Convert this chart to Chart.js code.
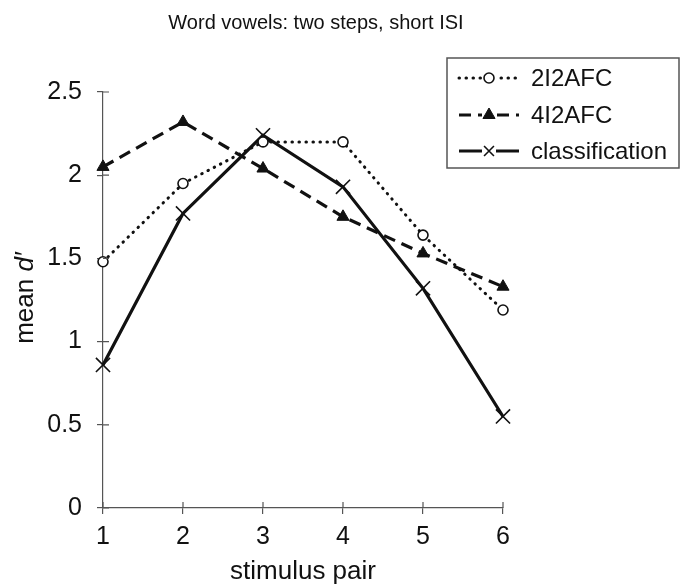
<!DOCTYPE html>
<html>
<head>
<meta charset="utf-8">
<script src="https://cdn.jsdelivr.net/npm/chart.js@4/dist/chart.umd.min.js"></script>
<style>
  body { margin: 0; background: #fff; }
</style>
</head>
<body>
<canvas id="myChart" width="683" height="588"></canvas>
<script>
// data
var pairs = [1, 2, 3, 4, 5, 6];
var twoI2AFC = [1.48, 1.95, 2.2, 2.2, 1.64, 1.19];
var fourI2AFC = [2.05, 2.32, 2.04, 1.75, 1.53, 1.33];
var classification = [0.86, 1.77, 2.24, 1.93, 1.32, 0.55];
var seriesNames = ['2I2AFC', '4I2AFC', 'classification'];
var yTicks = [0, 0.5, 1, 1.5, 2, 2.5];

var fontFam = '"Liberation Sans", Arial, sans-serif';
var ink = '#111';

function pts(vals) {
    return vals.map(function (v, i) { return { x: pairs[i], y: v }; });
}

// title, y axis title (italic d), inner ticks and boxed legend
var extras = {
    id: 'extras',
    afterDraw: function (chart) {
        var ctx = chart.ctx;
        var area = chart.chartArea;
        var xs = chart.scales.x, ys = chart.scales.y;
        ctx.save();

        // title
        ctx.fillStyle = ink;
        ctx.font = '20px ' + fontFam;
        ctx.textAlign = 'center';
        ctx.textBaseline = 'middle';
        ctx.fillText('Word vowels: two steps, short ISI', 316, 23);

        // inner halves of the tick marks
        ctx.strokeStyle = '#555';
        ctx.lineWidth = 1.2;
        ctx.beginPath();
        yTicks.forEach(function (t) {
            var y = ys.getPixelForValue(t);
            ctx.moveTo(area.left, y);
            ctx.lineTo(area.left + 6, y);
        });
        pairs.forEach(function (p) {
            var x = xs.getPixelForValue(p);
            ctx.moveTo(x, area.bottom);
            ctx.lineTo(x, area.bottom - 6);
        });
        ctx.stroke();

        // y axis title: mean d′
        ctx.translate(26, 298);
        ctx.rotate(-Math.PI / 2);
        ctx.textAlign = 'left';
        ctx.textBaseline = 'middle';
        ctx.font = '26px ' + fontFam;
        var a = 'mean ';
        var wa = ctx.measureText(a).width;
        ctx.font = 'italic 26px ' + fontFam;
        var b = 'd\u2032';
        var wb = ctx.measureText(b).width;
        var start = -(wa + wb) / 2;
        ctx.font = '26px ' + fontFam;
        ctx.fillText(a, start, 0);
        ctx.font = 'italic 26px ' + fontFam;
        ctx.fillText(b, start + wa, 0);
        ctx.setTransform(1, 0, 0, 1, 0, 0);

        // legend box
        ctx.strokeStyle = '#555';
        ctx.lineWidth = 1.5;
        ctx.strokeRect(447, 58, 232, 110);
        var rows = [78, 115, 151];
        chart.data.datasets.forEach(function (ds, i) {
            var y = rows[i];
            ctx.strokeStyle = ds.borderColor;
            ctx.lineWidth = ds.borderWidth;
            ctx.lineCap = ds.borderCapStyle || 'butt';
            ctx.setLineDash(ds.borderDash || []);
            ctx.beginPath();
            ctx.moveTo(459, y);
            ctx.lineTo(519, y);
            ctx.stroke();
            ctx.setLineDash([]);
            ctx.lineCap = 'butt';
            ctx.fillStyle = '#fff';
            ctx.fillRect(482, y - 7, 14, 14);
            ctx.fillStyle = ds.pointBackgroundColor;
            ctx.strokeStyle = ds.pointBorderColor;
            ctx.lineWidth = ds.pointBorderWidth;
            Chart.helpers.drawPoint(ctx, {
                pointStyle: ds.pointStyle,
                radius: ds.pointStyle === 'crossRot' ? 7 : ds.pointRadius,
                rotation: 0,
                borderWidth: ds.pointBorderWidth
            }, 489, y);
            ctx.fillStyle = ink;
            ctx.font = '24px ' + fontFam;
            ctx.textAlign = 'left';
            ctx.textBaseline = 'middle';
            ctx.fillText(ds.label, 531, y + 1);
        });
        ctx.restore();
    }
};

var myChart = new Chart(document.getElementById('myChart'), {
    type: 'line',
    data: {
        datasets: [{
            label: seriesNames[0],
            data: pts(twoI2AFC),
            borderColor: ink,
            borderWidth: 3,
            borderDash: [0.5, 6.5],
            borderCapStyle: 'round',
            pointStyle: 'circle',
            pointRadius: 5,
            pointBackgroundColor: '#fff',
            pointBorderColor: ink,
            pointBorderWidth: 1.6,
            clip: false
        },
        {
            label: seriesNames[1],
            data: pts(fourI2AFC),
            borderColor: ink,
            borderWidth: 3.2,
            borderDash: [12, 7],
            pointStyle: 'triangle',
            pointRadius: 7,
            pointBackgroundColor: ink,
            pointBorderColor: ink,
            pointBorderWidth: 1,
            clip: false
        },
        {
            label: seriesNames[2],
            data: pts(classification),
            borderColor: ink,
            borderWidth: 3.2,
            pointStyle: 'crossRot',
            pointRadius: 10,
            pointBackgroundColor: ink,
            pointBorderColor: ink,
            pointBorderWidth: 1.6,
            clip: false
        }]
    },
    options: {
        responsive: false,
        animation: false,
        layout: { padding: { left: 0, right: 180, top: 92, bottom: 0 } },
        plugins: {
            legend: { display: false },
            tooltip: { enabled: false }
        },
        scales: {
            x: {
                type: 'linear',
                min: 1,
                max: 6,
                afterFit: function (s) { s.height = 80; },
                afterBuildTicks: function (s) { s.ticks = pairs.map(function (p) { return { value: p }; }); },
                ticks: { color: ink, font: { size: 25, family: fontFam }, padding: 8 },
                grid: { drawOnChartArea: false, tickLength: 6, color: '#555', lineWidth: 1.2 },
                border: { color: '#555', width: 1.2 },
                title: {
                    display: true,
                    text: 'stimulus pair',
                    color: ink,
                    font: { size: 26, family: fontFam },
                    padding: { top: 0, bottom: 1 }
                }
            },
            y: {
                min: 0,
                max: 2.5,
                afterFit: function (s) { s.width = 103; },
                afterBuildTicks: function (s) { s.ticks = yTicks.map(function (t) { return { value: t }; }); },
                ticks: {
                    color: ink,
                    font: { size: 25, family: fontFam },
                    padding: 15,
                    callback: function (v) { return String(v); }
                },
                grid: { drawOnChartArea: false, tickLength: 6, color: '#555', lineWidth: 1.2 },
                border: { color: '#555', width: 1.2 }
            }
        }
    },
    plugins: [extras]
});
</script>
</body>
</html>
